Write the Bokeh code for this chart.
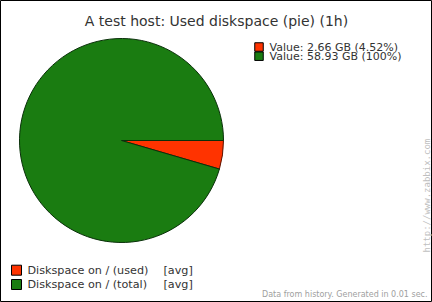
from math import pi
from bokeh.plotting import figure
from bokeh.models import Range1d
from bokeh.core.properties import value
from bokeh.embed import file_html
from bokeh.resources import INLINE

# ---- data ----
title = "A test host: Used diskspace (pie) (1h)"
item_names = ["Diskspace on / (used)", "Diskspace on / (total)"]
item_func = ["[avg]", "[avg]"]
item_values_gb = [2.66, 58.93]
item_percent = ["4.52%", "100%"]
colors = ["#FF3300", "#1A7C11"]
edge_colors = ["#5a1200", "#0a300a"]
footer = "Data from history. Generated in 0.01 sec."
watermark = "http://www.zabbix.com"

W, H = 432, 302
FONT = value("DejaVu Sans")

p = figure(width=W, height=H, output_backend="svg", toolbar_location=None,
           x_range=Range1d(0, W), y_range=Range1d(0, H), min_border=0)
p.axis.visible = False
p.grid.visible = False
p.outline_line_color = "black"
p.outline_line_width = 1
p.background_fill_color = "white"
p.border_fill_color = "white"

def Y(yi):
    return H - yi

# ---- pie ----
cx, cy, r = 121, Y(140), 102
frac = item_values_gb[0] / item_values_gb[1]
# used slice, clockwise from 3 o'clock
p.wedge(x=cx, y=cy, radius=r, start_angle=-frac * 2 * pi, end_angle=0,
        fill_color=colors[0], line_color=edge_colors[0], line_width=1)
# remaining total
p.wedge(x=cx, y=cy, radius=r, start_angle=0, end_angle=-frac * 2 * pi,
        fill_color=colors[1], line_color=edge_colors[1], line_width=1)

# ---- title ----
p.text(x=[W / 2], y=[Y(20)], text=[title], text_font=FONT, text_font_size="14px",
       text_color="#333333", text_align="center", text_baseline="middle")

# ---- top-right value legend ----
top_rows = [46.5, 55.7]
for i in range(2):
    yy = Y(top_rows[i])
    p.rect(x=[258.5], y=[yy], width=8.5, height=8.5, fill_color=colors[i], line_color="black", line_width=1)
    label = "Value: %.2f GB (%s)" % (item_values_gb[i], item_percent[i])
    p.text(x=[269], y=[yy], text=[label], text_font=FONT, text_font_size="11px",
           text_color="#333333", text_align="left", text_baseline="middle")

# ---- bottom legend ----
bot_rows = [269.7, 284]
for i in range(2):
    yy = Y(bot_rows[i])
    p.rect(x=[16], y=[yy], width=10, height=10, fill_color=colors[i], line_color="black", line_width=1)
    p.text(x=[27], y=[yy], text=[item_names[i]], text_font=FONT, text_font_size="11.2px",
           text_color="#333333", text_align="left", text_baseline="middle")
    p.text(x=[163], y=[yy], text=[item_func[i]], text_font=FONT, text_font_size="11.2px",
           text_color="#333333", text_align="left", text_baseline="middle")

# ---- footer ----
p.text(x=[427], y=[Y(294)], text=[footer], text_font=FONT, text_font_size="8px",
       text_color="#a0a0a0", text_align="right", text_baseline="middle")

# ---- watermark ----
p.text(x=[426], y=[Y(252)], text=[watermark], text_font=value("DejaVu Sans Mono"),
       text_font_size="9px", text_color="#c0c0c0", text_align="left",
       text_baseline="middle", angle=pi / 2)

open("out.html", "w").write(file_html(p, INLINE))
